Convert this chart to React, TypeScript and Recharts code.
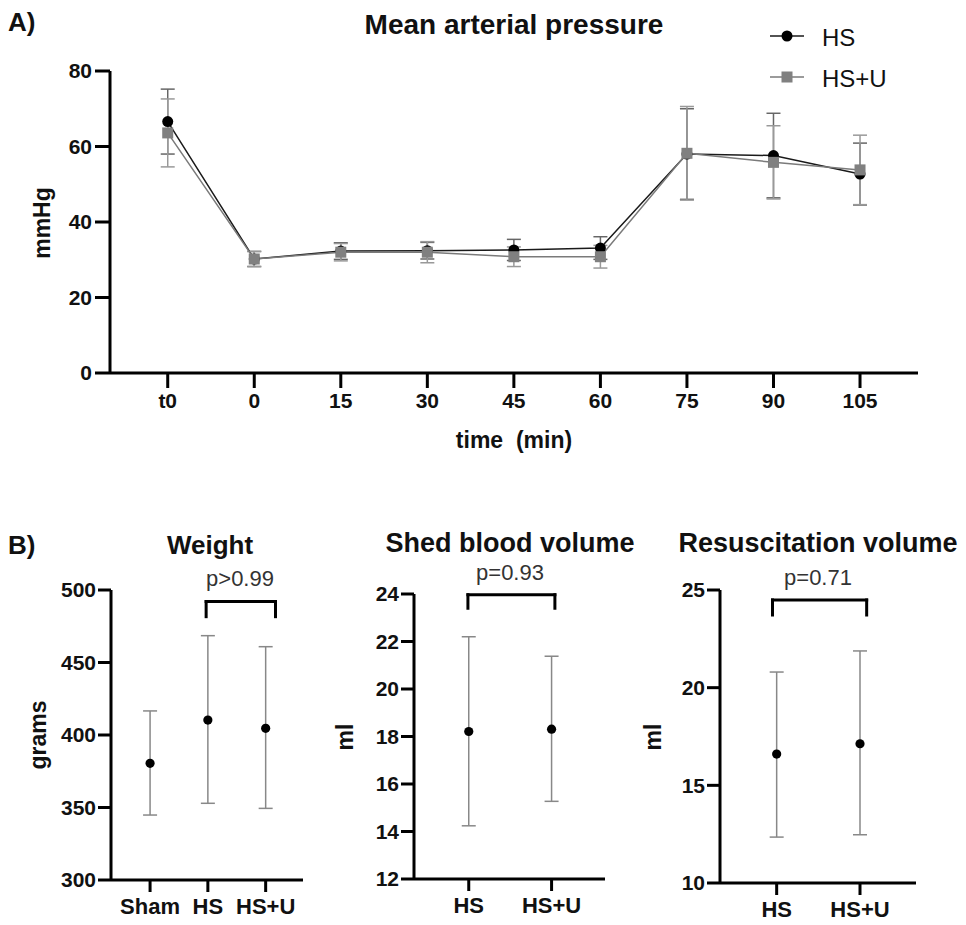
import React from 'react';
import { ComposedChart, LineChart, Line, Scatter, XAxis, YAxis, ErrorBar, ReferenceLine } from 'recharts';

const FONT = '"Liberation Sans", Arial, Helvetica, sans-serif';

// ---------- Panel A data ----------
const timeLabels = ['t0', '0', '15', '30', '45', '60', '75', '90', '105'];
const hsMean = [66.6, 30.2, 32.3, 32.4, 32.6, 33.1, 58.0, 57.6, 52.7];
const hsSd = [8.6, 2.0, 2.2, 2.2, 2.8, 3.0, 12.0, 11.2, 8.2];
const hsuMean = [63.6, 30.2, 32.0, 32.0, 30.8, 30.8, 58.2, 55.8, 53.8];
const hsuSd = [9.0, 2.0, 2.3, 2.8, 2.6, 3.0, 12.4, 9.7, 9.2];
const mapTicks = [0, 20, 40, 60, 80];

// ---------- Panel B data ----------
const weightCats = ['Sham', 'HS', 'HS+U'];
const weightMean = [380.5, 410.3, 404.6];
const weightLow = [344.8, 352.9, 349.4];
const weightHigh = [416.6, 468.5, 460.9];
const weightTicks = [300, 350, 400, 450, 500];

const shedCats = ['HS', 'HS+U'];
const shedMean = [18.21, 18.31];
const shedLow = [14.24, 15.27];
const shedHigh = [22.2, 21.38];
const shedTicks = [12, 14, 16, 18, 20, 22, 24];

const resusCats = ['HS', 'HS+U'];
const resusMean = [16.6, 17.13];
const resusLow = [12.35, 12.47];
const resusHigh = [20.8, 21.88];
const resusTicks = [10, 15, 20, 25];

const mapData = timeLabels.map((t, i) => ({
  x: i,
  hs: hsMean[i],
  hsErr: hsSd[i],
  hsu: hsuMean[i],
  hsuErr: hsuSd[i],
}));

const axisLine = { stroke: '#000', strokeWidth: 3 };
const tickLine = { stroke: '#000', strokeWidth: 3 };
const tickStyle = { fontSize: 21, fontWeight: 'bold', fill: '#111', fontFamily: FONT };
const tickStyleB = { fontSize: 22, fontWeight: 'bold', fill: '#111', fontFamily: FONT };

const CircleDot = (p: any) => (
  <circle key={`c${p.index}`} cx={p.cx} cy={p.cy} r={5.5} fill="#000" />
);
const SquareDot = (p: any) => (
  <rect key={`s${p.index}`} x={p.cx - 5.5} y={p.cy - 5.5} width={11} height={11} fill="#808080" />
);

function PanelA() {
  return (
    <div style={{ position: 'absolute', left: 0, top: 0 }}>
      <LineChart width={966} height={460} data={mapData} margin={{ top: 71, right: 48, bottom: 47, left: 50 }}>
        <XAxis
          dataKey="x"
          type="number"
          domain={[-0.667, 8.67]}
          ticks={[0, 1, 2, 3, 4, 5, 6, 7, 8]}
          tickFormatter={(v: number) => timeLabels[v]}
          allowDataOverflow
          height={40}
          axisLine={axisLine}
          tickLine={tickLine}
          tickSize={15}
          tickMargin={5}
          tick={tickStyle}
        />
        <YAxis
          type="number"
          domain={[0, 80]}
          ticks={mapTicks}
          width={60}
          axisLine={axisLine}
          tickLine={tickLine}
          tickSize={15}
          tickMargin={3}
          tick={tickStyle}
        />
        <Line
          dataKey="hs"
          type="linear"
          stroke="#1a1a1a"
          strokeWidth={1.5}
          dot={CircleDot}
          activeDot={false}
          isAnimationActive={false}
        >
          <ErrorBar dataKey="hsErr" direction="y" width={7} stroke="#666" strokeWidth={1.5} />
        </Line>
        <Line
          dataKey="hsu"
          type="linear"
          stroke="#7a7a7a"
          strokeWidth={1.5}
          dot={SquareDot}
          activeDot={false}
          isAnimationActive={false}
        >
          <ErrorBar dataKey="hsuErr" direction="y" width={7} stroke="#999" strokeWidth={1.5} />
        </Line>
      </LineChart>
    </div>
  );
}

type DotPanelProps = {
  left: number;
  width: number;
  margin: { top: number; right: number; bottom: number; left: number };
  cats: string[];
  mean: number[];
  low: number[];
  high: number[];
  yDomain: [number, number];
  yTicks: number[];
  xDomain: [number, number];
  bracket: { x1: number; x2: number; top: number; bottom: number };
};

const DotShape = (p: any) => <circle cx={p.cx} cy={p.cy} r={4.6} fill="#000" />;

function DotPanel(props: DotPanelProps) {
  const { left, width, margin, cats, mean, low, high, yDomain, yTicks, xDomain, bracket } = props;
  const data = cats.map((c, i) => ({ x: i, y: mean[i], err: [mean[i] - low[i], high[i] - mean[i]] }));
  const br = { stroke: '#000', strokeWidth: 3, strokeLinecap: 'square' as const };
  return (
    <div style={{ position: 'absolute', left, top: 500 }}>
      <ComposedChart width={width} height={425} margin={margin}>
        <XAxis
          dataKey="x"
          type="number"
          domain={xDomain}
          ticks={cats.map((_, i) => i)}
          tickFormatter={(v: number) => cats[v]}
          allowDataOverflow
          height={40}
          axisLine={axisLine}
          tickLine={tickLine}
          tickSize={12}
          tickMargin={6}
          tick={tickStyleB}
        />
        <YAxis
          dataKey="y"
          type="number"
          domain={yDomain}
          ticks={yTicks}
          allowDataOverflow
          width={60}
          axisLine={axisLine}
          tickLine={tickLine}
          tickSize={13}
          tickMargin={2}
          tick={tickStyle}
        />
        <Scatter data={data} dataKey="y" shape={DotShape} isAnimationActive={false}>
          <ErrorBar dataKey="err" direction="y" width={7} stroke="#888" strokeWidth={1.5} />
        </Scatter>
        <ReferenceLine segment={[{ x: bracket.x1, y: bracket.top }, { x: bracket.x2, y: bracket.top }]} {...br} />
        <ReferenceLine segment={[{ x: bracket.x1, y: bracket.top }, { x: bracket.x1, y: bracket.bottom }]} {...br} />
        <ReferenceLine segment={[{ x: bracket.x2, y: bracket.top }, { x: bracket.x2, y: bracket.bottom }]} {...br} />
      </ComposedChart>
    </div>
  );
}

function Overlay() {
  const bold = { fontFamily: FONT, fontWeight: 'bold' as const, fill: '#111' };
  const reg = { fontFamily: FONT, fill: '#333' };
  return (
    <svg width={966} height={925} style={{ position: 'absolute', left: 0, top: 0, pointerEvents: 'none' }}>
      <text x={8} y={22} fontSize={26} dominantBaseline="central" {...bold}>A)</text>
      <text x={514} y={24} fontSize={28} textAnchor="middle" dominantBaseline="central" {...bold}>Mean arterial pressure</text>
      {/* legend */}
      <line x1={770} y1={36} x2={804} y2={36} stroke="#1a1a1a" strokeWidth={1.5} />
      <circle cx={787} cy={36} r={5.5} fill="#000" />
      <text x={822} y={37} fontSize={24} dominantBaseline="central" fontFamily={FONT} fill="#111">HS</text>
      <line x1={770} y1={77} x2={804} y2={77} stroke="#7a7a7a" strokeWidth={1.5} />
      <rect x={781.5} y={71.5} width={11} height={11} fill="#808080" />
      <text x={822} y={78} fontSize={24} dominantBaseline="central" fontFamily={FONT} fill="#111">HS+U</text>
      <text x={514} y={440} fontSize={23} textAnchor="middle" dominantBaseline="central" {...bold} style={{ whiteSpace: 'pre' }}>{'time  (min)'}</text>
      <text transform="translate(42,223) rotate(-90)" fontSize={23} textAnchor="middle" dominantBaseline="central" {...bold}>mmHg</text>

      <text x={8} y={545} fontSize={26} dominantBaseline="central" {...bold}>B)</text>
      <text x={210} y={545} fontSize={26} textAnchor="middle" dominantBaseline="central" {...bold}>Weight</text>
      <text x={240} y={578} fontSize={22} textAnchor="middle" dominantBaseline="central" {...reg}>p&gt;0.99</text>
      <text transform="translate(38,735) rotate(-90)" fontSize={23} textAnchor="middle" dominantBaseline="central" {...bold}>grams</text>

      <text x={510} y={543} fontSize={27} textAnchor="middle" dominantBaseline="central" {...bold}>Shed blood volume</text>
      <text x={510} y={572} fontSize={22} textAnchor="middle" dominantBaseline="central" {...reg}>p=0.93</text>
      <text transform="translate(345,737) rotate(-90)" fontSize={23} textAnchor="middle" dominantBaseline="central" {...bold}>ml</text>

      <text x={818} y={543} fontSize={27} textAnchor="middle" dominantBaseline="central" {...bold}>Resuscitation volume</text>
      <text x={818} y={577} fontSize={22} textAnchor="middle" dominantBaseline="central" {...reg}>p=0.71</text>
      <text transform="translate(653,737) rotate(-90)" fontSize={23} textAnchor="middle" dominantBaseline="central" {...bold}>ml</text>
    </svg>
  );
}

export default function App() {
  return (
    <div style={{ position: 'absolute', left: 0, top: 0, width: 966, height: 925, background: '#fff', fontFamily: FONT }}>
      <PanelA />
      <DotPanel
        left={0}
        width={330}
        margin={{ top: 90, right: 27, bottom: 5, left: 51 }}
        cats={weightCats}
        mean={weightMean}
        low={weightLow}
        high={weightHigh}
        yDomain={[300, 500]}
        yTicks={weightTicks}
        xDomain={[-0.676, 2.646]}
        bracket={{ x1: 0.97, x2: 2.17, top: 492, bottom: 481.6 }}
      />
      <DotPanel
        left={330}
        width={290}
        margin={{ top: 94, right: 15, bottom: 6, left: 24 }}
        cats={shedCats}
        mean={shedMean}
        low={shedLow}
        high={shedHigh}
        yDomain={[12, 24]}
        yTicks={shedTicks}
        xDomain={[-0.661, 1.645]}
        bracket={{ x1: -0.01, x2: 1.04, top: 23.97, bottom: 23.4 }}
      />
      <DotPanel
        left={630}
        width={336}
        margin={{ top: 90, right: 50, bottom: 2, left: 30 }}
        cats={resusCats}
        mean={resusMean}
        low={resusLow}
        high={resusHigh}
        yDomain={[10, 25]}
        yTicks={resusTicks}
        xDomain={[-0.68, 1.672]}
        bracket={{ x1: -0.05, x2: 1.08, top: 24.49, bottom: 23.72 }}
      />
      <Overlay />
    </div>
  );
}
